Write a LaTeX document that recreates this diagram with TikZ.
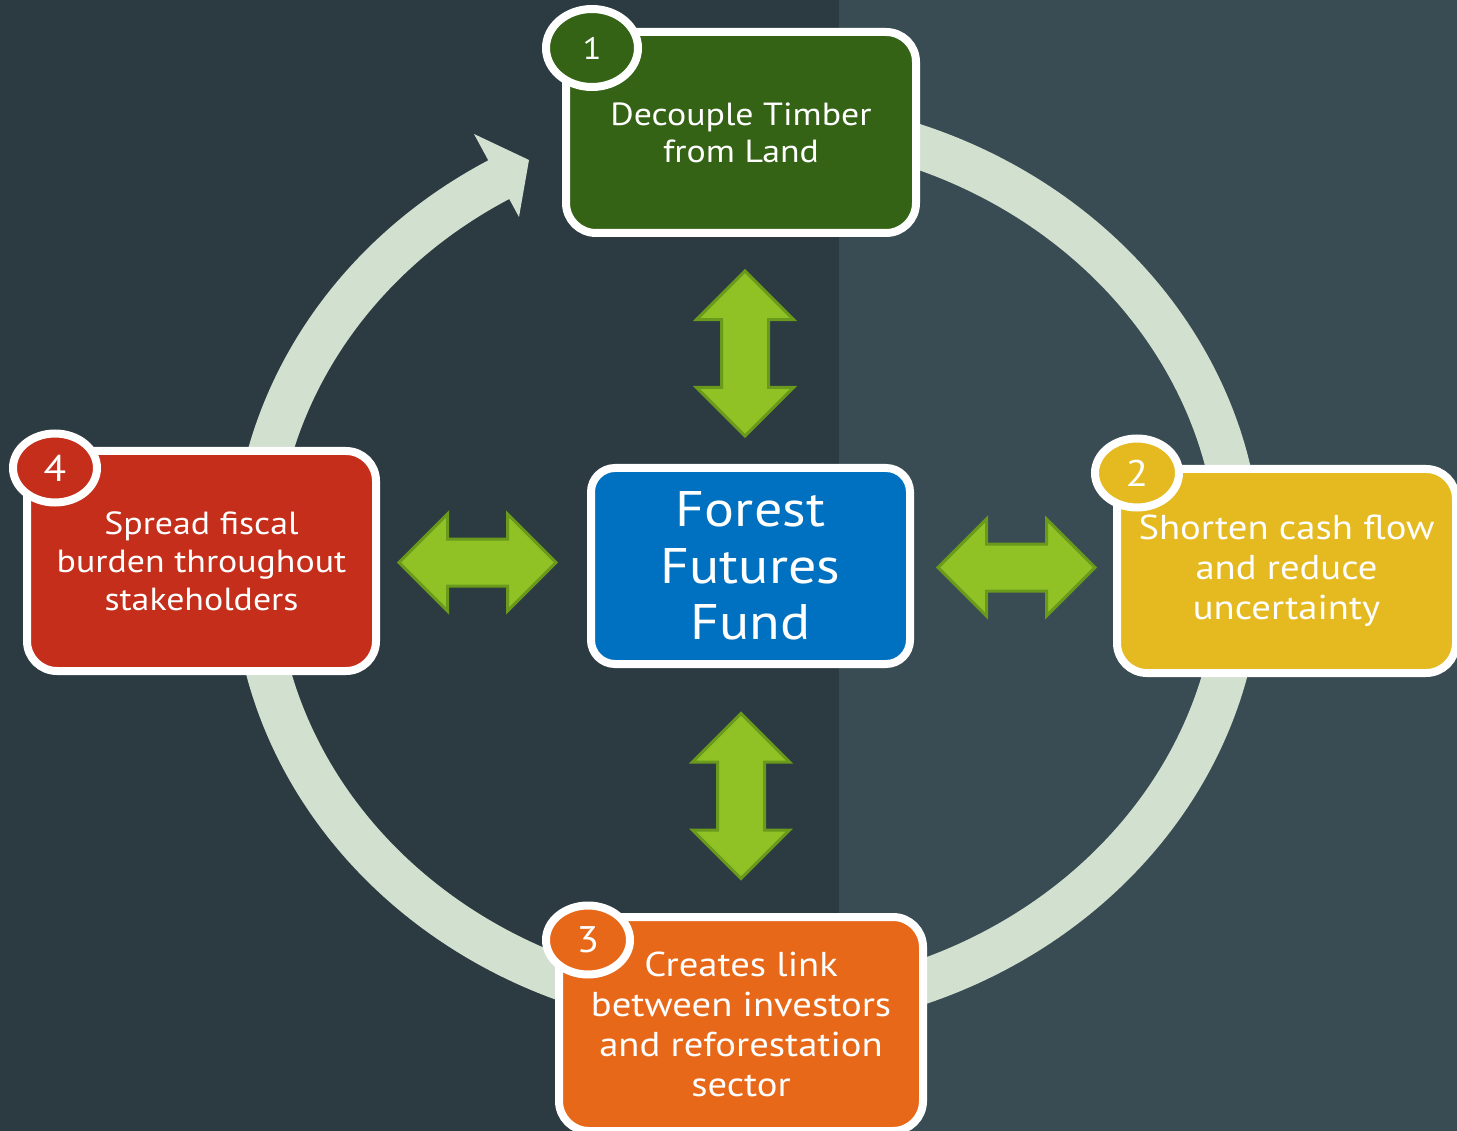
\documentclass[tikz,border=0pt]{standalone}
\usepackage{fontspec}
\setmainfont{PT Sans}[FakeStretch=1.12]
\usetikzlibrary{shapes.geometric,shapes.arrows,calc}

\definecolor{bgleft}{HTML}{2C3A42}
\definecolor{bgright}{HTML}{394C54}
\definecolor{ringgray}{HTML}{D2E0CF}
\definecolor{timbergreen}{HTML}{356316}
\definecolor{cashyellow}{HTML}{E5B920}
\definecolor{linkorange}{HTML}{E8681A}
\definecolor{fiscalred}{HTML}{C42E1A}
\definecolor{fundblue}{HTML}{0070C0}
\definecolor{arrowgreen}{HTML}{90C226}
\definecolor{arrowedge}{HTML}{6A9A1B}

\tikzset{
  card/.style={rectangle, rounded corners=30pt, draw=white, line width=8pt,
    text=white, align=center, inner sep=0pt},
  badge/.style={ellipse, draw=white, line width=8pt, text=white, inner sep=0pt,
    minimum width=84pt, minimum height=69pt, font=\fontsize{37}{37}\selectfont},
  twoway/.style={double arrow, double arrow head extend=25pt,
    double arrow tip angle=90, fill=arrowgreen, draw=arrowedge, line width=3pt,
    minimum width=94pt, minimum height=157pt, inner sep=22pt},
}

\begin{document}
\begin{tikzpicture}[x=1pt,y=-1pt]
\clip (0,0) rectangle (1457,1131);
\fill[bgleft] (0,0) rectangle (839,1131);
\fill[bgright] (839,0) rectangle (1457,1131);

% cycle ring behind the cards
\coordinate (hub) at (747,565);
\draw[ringgray, line width=44pt] (hub) ++(0,-446)
  arc[start angle=-90, end angle=240, x radius=493, y radius=446];
\fill[ringgray] (474,134) -- (529,160) -- (519,217) -- cycle;

% cards
\node[card, fill=fundblue, rounded corners=24pt, minimum width=319pt,
  minimum height=196pt, font=\fontsize{50}{56.5}\selectfont]
  (fund) at (750.5,566) {Forest\\Futures\\Fund};
\node[card, fill=timbergreen, minimum width=350pt, minimum height=201pt,
  font=\fontsize{32}{37}\selectfont]
  (timber) at (741,132.5) {Decouple Timber\\from Land};
\node[card, fill=cashyellow, minimum width=339pt, minimum height=204pt,
  font=\fontsize{34.5}{40}\selectfont]
  (cashflow) at (1286.5,571) {Shorten cash flow\\and reduce\\uncertainty};
\node[card, fill=linkorange, minimum width=364pt, minimum height=214pt,
  font=\fontsize{34.5}{40}\selectfont]
  (link) at (741,1024) {Creates link\\between investors\\and reforestation\\sector};
\node[card, fill=fiscalred, minimum width=349pt, minimum height=220pt,
  font=\fontsize{32}{38}\selectfont]
  (fiscal) at (201.5,561) {Spread fiscal\\burden throughout\\stakeholders};

% numbered badges on the corners
\node[badge, fill=timbergreen, minimum width=92pt, minimum height=78pt,
  font=\fontsize{31}{31}\selectfont] (one) at ([shift={(30,20)}]timber.north west) {1};
\node[badge, fill=cashyellow] (two) at ([shift={(24,8)}]cashflow.north west) {2};
\node[badge, fill=linkorange] (three) at ([shift={(33,27)}]link.north west) {3};
\node[badge, fill=fiscalred] (four) at ([shift={(32,21)}]fiscal.north west) {4};

% two-way arrows between the fund and each card (shifts are in the rotated frame)
\node[twoway, rotate=90, minimum height=165pt, xshift=-3pt, yshift=0.75pt] (up)
  at ($(fund.north)!0.5!(timber.south)$) {};
\node[twoway, rotate=90, minimum height=165pt, xshift=-5.5pt, yshift=4.75pt] (down)
  at ($(fund.south)!0.5!(link.north)$) {};
\node[twoway, xshift=-6pt, yshift=1pt] (left) at ($(fund.west)!0.5!(fiscal.east)$) {};
\node[twoway, xshift=3pt, yshift=1pt] (right) at ($(fund.east)!0.5!(cashflow.west)$) {};
\end{tikzpicture}
\end{document}
